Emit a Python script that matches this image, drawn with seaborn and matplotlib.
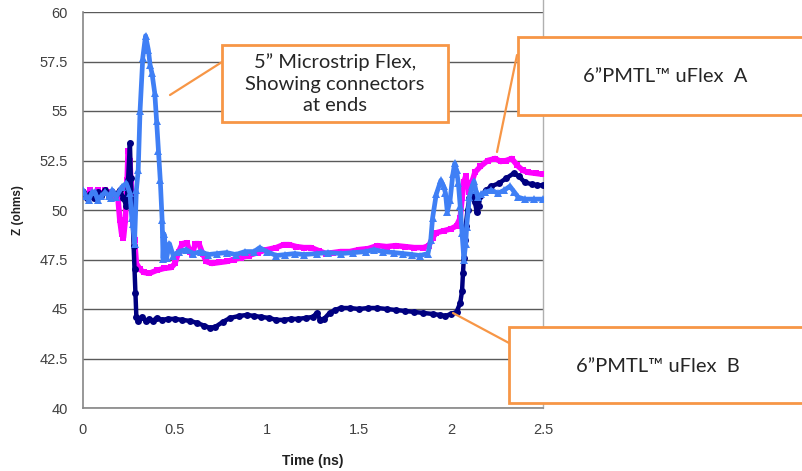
import matplotlib
matplotlib.use("Agg")
import matplotlib.pyplot as plt
from matplotlib.patches import Rectangle
from matplotlib.lines import Line2D
import seaborn as sns

# values (time in ns, impedance in ohms)
t_b = [0.00, 0.02, 0.04, 0.06, 0.08, 0.10, 0.12, 0.14, 0.16, 0.18, 0.20, 0.22, 0.235, 0.245, 0.255,
       0.26, 0.265, 0.27, 0.275, 0.28, 0.285, 0.29, 0.30, 0.32, 0.34, 0.36, 0.38, 0.40, 0.43, 0.46,
       0.50, 0.54, 0.58, 0.62, 0.66, 0.69, 0.72, 0.76, 0.80, 0.85, 0.89, 0.93, 0.97, 1.01, 1.05,
       1.09, 1.13, 1.17, 1.21, 1.25, 1.27, 1.29, 1.31, 1.34, 1.37, 1.40, 1.45, 1.50, 1.55, 1.60,
       1.65, 1.70, 1.75, 1.80, 1.85, 1.90, 1.94, 1.97, 2.00, 2.03, 2.05, 2.06, 2.065, 2.07, 2.075,
       2.08, 2.09, 2.10, 2.115, 2.13, 2.14, 2.15, 2.16, 2.19, 2.22, 2.26, 2.30, 2.34, 2.37, 2.40,
       2.44, 2.47, 2.50]
z_b = [50.9, 50.6, 50.8, 50.6, 50.9, 50.7, 51.0, 50.7, 50.9, 50.8, 51.0, 50.6, 50.2, 51.5, 53.4,
       51.6, 50.5, 49.5, 48.2, 47.0, 45.8, 44.6, 44.4, 44.6, 44.4, 44.5, 44.4, 44.55, 44.45, 44.5,
       44.5, 44.45, 44.4, 44.3, 44.15, 44.05, 44.1, 44.35, 44.55, 44.65, 44.7, 44.65, 44.6, 44.55, 44.45,
       44.45, 44.5, 44.5, 44.55, 44.6, 44.8, 44.45, 44.5, 44.8, 44.95, 45.05, 45.05, 45.0, 45.05, 45.05,
       45.0, 44.95, 44.9, 44.85, 44.8, 44.75, 44.7, 44.65, 44.75, 44.85, 45.3, 45.9, 46.8, 47.6, 48.5,
       49.2, 50.0, 50.6, 50.7, 50.4, 49.9, 50.2, 50.7, 51.0, 51.2, 51.35, 51.6, 51.85, 51.7, 51.4,
       51.3, 51.25, 51.25]

t_a = [0.00, 0.02, 0.04, 0.06, 0.08, 0.10, 0.12, 0.14, 0.16, 0.18, 0.19, 0.20, 0.21, 0.22, 0.23,
       0.24, 0.245, 0.255, 0.26, 0.27, 0.28, 0.29, 0.31, 0.33, 0.36, 0.40, 0.44, 0.48, 0.50, 0.52,
       0.54, 0.565, 0.58, 0.595, 0.61, 0.63, 0.65, 0.67, 0.70, 0.74, 0.78, 0.82, 0.86, 0.90, 0.95,
       1.00, 1.05, 1.09, 1.12, 1.16, 1.20, 1.24, 1.28, 1.32, 1.36, 1.40, 1.45, 1.50, 1.55, 1.60,
       1.65, 1.70, 1.75, 1.80, 1.85, 1.88, 1.90, 1.92, 1.96, 2.00, 2.03, 2.05, 2.06, 2.07, 2.08,
       2.09, 2.10, 2.11, 2.13, 2.16, 2.20, 2.24, 2.27, 2.30, 2.33, 2.36, 2.39, 2.42, 2.46, 2.50]
z_a = [50.9, 50.7, 51.0, 50.8, 51.0, 50.8, 51.0, 50.8, 50.9, 50.7, 50.6, 49.5, 48.8, 48.6, 49.5,
       51.5, 53.0, 52.5, 51.5, 50.0, 48.5, 47.3, 47.0, 46.85, 46.8, 46.95, 47.05, 47.1, 47.3, 47.9,
       48.3, 48.35, 47.9, 47.8, 48.3, 48.3, 47.8, 47.4, 47.3, 47.35, 47.4, 47.5, 47.6, 47.7, 47.85,
       48.0, 48.1, 48.25, 48.25, 48.15, 48.1, 48.1, 47.95, 47.8, 47.85, 47.9, 47.9, 48.0, 48.05, 48.2,
       48.15, 48.2, 48.15, 48.1, 48.1, 48.2, 48.6, 48.85, 48.95, 49.05, 49.2, 49.6, 50.6, 51.4, 51.7,
       51.3, 50.9, 51.3, 51.9, 52.2, 52.5, 52.6, 52.45, 52.5, 52.6, 52.25, 52.0, 51.9, 51.85, 51.8]

t_m = [0.00, 0.015, 0.03, 0.05, 0.065, 0.08, 0.10, 0.12, 0.14, 0.15, 0.16, 0.18, 0.21, 0.235, 0.255,
       0.265, 0.27, 0.28, 0.29, 0.30, 0.31, 0.325, 0.34, 0.355, 0.365, 0.375, 0.39, 0.40, 0.41, 0.42,
       0.43, 0.435, 0.44, 0.455, 0.47, 0.49, 0.52, 0.56, 0.60, 0.64, 0.68, 0.73, 0.78, 0.83, 0.88,
       0.93, 0.96, 1.00, 1.05, 1.10, 1.15, 1.20, 1.27, 1.33, 1.40, 1.47, 1.54, 1.58, 1.63, 1.69,
       1.74, 1.79, 1.83, 1.875, 1.89, 1.90, 1.92, 1.945, 1.96, 1.97, 1.98, 1.995, 2.01, 2.02, 2.03,
       2.04, 2.05, 2.06, 2.07, 2.08, 2.085, 2.10, 2.115, 2.125, 2.135, 2.145, 2.165, 2.185, 2.22, 2.255,
       2.29, 2.32, 2.345, 2.365, 2.40, 2.45, 2.50]
z_m = [51.0, 50.7, 50.5, 50.9, 50.9, 50.5, 50.7, 50.9, 50.7, 50.6, 51.0, 50.65, 51.15, 51.35, 50.85,
       49.6, 49.3, 48.3, 51.0, 52.0, 55.0, 57.7, 58.8, 58.1, 57.3, 56.9, 55.9, 54.5, 53.0, 51.5,
       49.5, 47.55, 48.8, 47.6, 48.3, 47.7, 47.9, 48.0, 47.8, 47.9, 47.75, 47.8, 47.85, 47.75, 47.9,
       47.9, 48.1, 47.9, 47.7, 47.75, 47.8, 47.75, 47.8, 47.85, 47.8, 47.85, 47.9, 48.0, 47.9, 47.85,
       47.8, 47.75, 47.7, 47.8, 48.5, 49.6, 50.8, 51.5, 51.2, 50.85, 49.9, 50.5, 51.8, 52.35, 52.0,
       51.35, 50.2, 48.85, 47.5, 48.3, 49.15, 50.65, 51.2, 51.45, 51.0, 50.65, 50.8, 50.9, 51.0, 50.85,
       51.0, 51.2, 50.9, 50.65, 50.55, 50.55, 50.55]

y_ticks = [40, 42.5, 45, 47.5, 50, 52.5, 55, 57.5, 60]
y_labels = ["40", "42.5", "45", "47.5", "50", "52.5", "55", "57.5", "60"]
x_ticks = [0, 0.5, 1, 1.5, 2, 2.5]
x_labels = ["0", "0.5", "1", "1.5", "2", "2.5"]

note_micro = "5\u201d Microstrip Flex,\nShowing connectors\nat ends"
note_a = "6\u201dPMTL\u2122 uFlex  A"
note_b = "6\u201dPMTL\u2122 uFlex  B"

sns.set_style("white")
plt.rcParams["font.family"] = ["Liberation Sans", "DejaVu Sans"]

W, H = 803, 471
fig = plt.figure(figsize=(W / 100, H / 100), dpi=100)
ax = fig.add_axes([83 / W, 1 - 408 / H, (543 - 83) / W, (408 - 12) / H])

sns.lineplot(x=t_a, y=z_a, ax=ax, sort=False, estimator=None, color="#ff00ff",
             lw=4, marker="s", markersize=5, markeredgewidth=0, zorder=3)
sns.lineplot(x=t_b, y=z_b, ax=ax, sort=False, estimator=None, color="#000080",
             lw=3.2, marker="o", markersize=5, markeredgewidth=0, zorder=4)
sns.lineplot(x=t_m, y=z_m, ax=ax, sort=False, estimator=None, color="#3f7ff5",
             lw=3.4, marker="^", markersize=6, markeredgewidth=0, zorder=5)

ax.set_xlim(0, 2.5)
ax.set_ylim(40, 60)
ax.set_yticks(y_ticks)
ax.set_yticklabels(y_labels)
ax.set_xticks(x_ticks)
ax.set_xticklabels(x_labels)
ax.tick_params(axis="both", direction="out", length=5, width=1, color="#868686",
               labelcolor="#404040", labelsize=10.5, pad=6)
ax.yaxis.grid(True, color="#5a5a5a", lw=1)
ax.xaxis.grid(False)
for s in ["left", "bottom"]:
    ax.spines[s].set_color("#868686")
    ax.spines[s].set_linewidth(1.2)
ax.spines["top"].set_visible(False)
ax.spines["right"].set_visible(False)
# Excel plot-area frame on the right, running up past the axis top
ax.add_line(Line2D([1, 1], [0, 1.035], transform=ax.transAxes, color="#b0b0b0",
                   lw=1, clip_on=False))

ax.set_xlabel("Time (ns)", fontsize=10, fontweight="bold", color="#202020", labelpad=12)
ax.set_ylabel("Z (ohms)", fontsize=8.5, fontweight="bold", color="#202020", labelpad=11)

orange = "#f79646"


def px(x, y):
    return x / W, 1 - y / H


def callout(x0, y0, x1, y1, text, tx, ty, lead):
    (a, b), (c, d) = px(x0, y1), px(x1, y0)
    fig.add_artist(Line2D([px(*lead[0])[0], px(*lead[1])[0]],
                          [px(*lead[0])[1], px(*lead[1])[1]],
                          color=orange, lw=1.6, zorder=9))
    fig.add_artist(Rectangle((a, b), c - a, d - b, transform=fig.transFigure,
                             facecolor="white", edgecolor=orange, lw=2, zorder=10))
    fig.text(*px(tx, ty), text, ha="center", va="center", fontsize=14.5,
             family=["Lato", "DejaVu Sans"], color="#262626", linespacing=1.32, zorder=11)


callout(222, 45, 448, 122, note_micro, 335, 84, [(222, 62), (170, 95)])
callout(518, 37, 830, 115, note_a, 665, 77, [(517, 55), (497, 152)])
callout(509, 327, 830, 403, note_b, 658, 366, [(509, 343), (453, 313)])

fig.savefig("out.png", dpi=100)
